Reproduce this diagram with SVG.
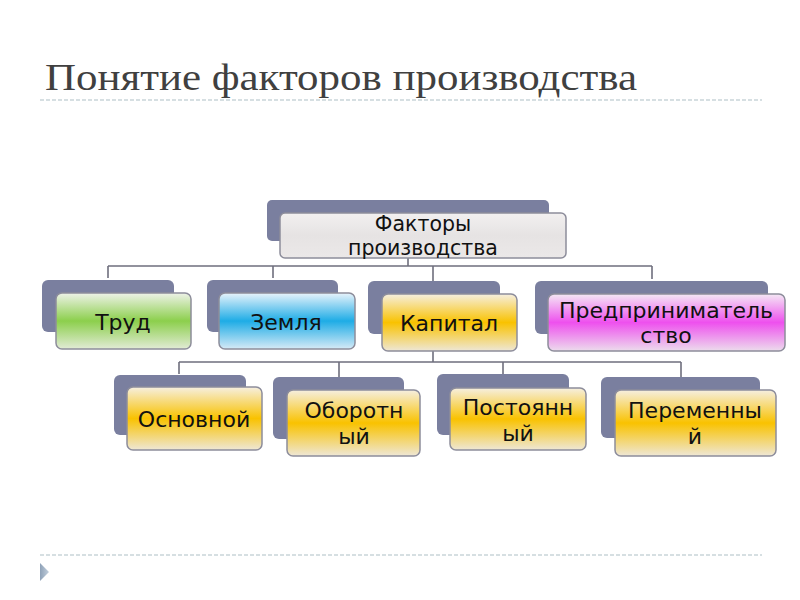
<svg xmlns="http://www.w3.org/2000/svg" width="800" height="600" viewBox="0 0 800 600">
<defs>
<linearGradient id="gGray" x1="0" y1="0" x2="0" y2="1"><stop offset="0" stop-color="#f2f0f0"/><stop offset="0.5" stop-color="#e6e3e3"/><stop offset="1" stop-color="#ebe8e8"/></linearGradient>
<linearGradient id="gGreen" x1="0" y1="0" x2="0" y2="1"><stop offset="0" stop-color="#eef2e8"/><stop offset="0.5" stop-color="#8ccf4c"/><stop offset="1" stop-color="#e2ebd6"/></linearGradient>
<linearGradient id="gBlue" x1="0" y1="0" x2="0" y2="1"><stop offset="0" stop-color="#e8f3fb"/><stop offset="0.5" stop-color="#1eace6"/><stop offset="1" stop-color="#d6eaf6"/></linearGradient>
<linearGradient id="gOrange" x1="0" y1="0" x2="0" y2="1"><stop offset="0" stop-color="#f6efe0"/><stop offset="0.5" stop-color="#f9c200"/><stop offset="1" stop-color="#eee7d6"/></linearGradient>
<linearGradient id="gPink" x1="0" y1="0" x2="0" y2="1"><stop offset="0" stop-color="#f4e8f4"/><stop offset="0.5" stop-color="#ee50ee"/><stop offset="1" stop-color="#ecdcec"/></linearGradient>
<linearGradient id="gTri" x1="0" y1="0" x2="1" y2="0"><stop offset="0" stop-color="#8fa2b8"/><stop offset="1" stop-color="#c2cfdc"/></linearGradient>
</defs>
<style>
.title{font-family:"Liberation Serif","Times New Roman",serif;font-size:38px;fill:#404040}
.dash{stroke:#aebfc6;stroke-width:1.2;stroke-dasharray:4 2;fill:none}
.back{fill:#7a7f9f}
.front{stroke:#8d8d9b;stroke-width:1.5}
.lbl{font-family:"DejaVu Sans","Verdana",sans-serif;font-size:22px;fill:#111;text-anchor:middle}
.top{font-size:20.5px}
.conn{stroke:#6f6f7d;stroke-width:1.6;fill:none}
</style>
<rect width="800" height="600" fill="#ffffff"/>
<text class="title" x="45" y="90" textLength="592" lengthAdjust="spacingAndGlyphs">Понятие факторов производства</text>
<line class="dash" x1="40" y1="100" x2="762" y2="100"/>
<line class="dash" x1="40" y1="555" x2="762" y2="555"/>
<polygon points="40,563 49,572 40,581" fill="url(#gTri)"/>

<g id="connectors">
<path class="conn" d="M408,258 V266 M108,266 H652 M108,266 V278 M273,266 V278 M433,266 V281 M652,266 V279"/>
<path class="conn" d="M433,351 V362 M179,362 H681 M179,362 V374 M339,362 V377 M503,362 V374 M681,362 V377"/>
</g>

<g id="n-factors">
<rect class="back" x="267" y="200" width="282" height="41" rx="5"/>
<rect class="front" x="280" y="213" width="286" height="45" rx="5" fill="url(#gGray)"/>
<text class="lbl top" x="423" y="231">Факторы</text>
<text class="lbl top" x="423" y="255">производства</text>
</g>
<g id="n-trud">
<rect class="back" x="42" y="280" width="132" height="52" rx="6"/>
<rect class="front" x="56" y="293" width="135" height="56" rx="6" fill="url(#gGreen)"/>
<text class="lbl" x="123" y="330">Труд</text>
</g>
<g id="n-zemlya">
<rect class="back" x="207" y="280" width="131" height="52" rx="6"/>
<rect class="front" x="219" y="293" width="136" height="56" rx="6" fill="url(#gBlue)"/>
<text class="lbl" x="286" y="330">Земля</text>
</g>
<g id="n-kapital">
<rect class="back" x="368" y="281" width="132" height="53" rx="6"/>
<rect class="front" x="382" y="294" width="135" height="57" rx="6" fill="url(#gOrange)"/>
<text class="lbl" x="449" y="331">Капитал</text>
</g>
<g id="n-predpr">
<rect class="back" x="535" y="281" width="233" height="53" rx="6"/>
<rect class="front" x="548" y="294" width="237" height="57" rx="6" fill="url(#gPink)"/>
<text class="lbl" x="666" y="318">Предприниматель</text>
<text class="lbl" x="666" y="343">ство</text>
</g>
<g id="n-osnovnoy">
<rect class="back" x="114" y="375" width="132" height="60" rx="6"/>
<rect class="front" x="127" y="387" width="135" height="63" rx="6" fill="url(#gOrange)"/>
<text class="lbl" x="194" y="427">Основной</text>
</g>
<g id="n-oborotny">
<rect class="back" x="273" y="377" width="131" height="62" rx="6"/>
<rect class="front" x="287" y="390" width="133" height="66" rx="6" fill="url(#gOrange)"/>
<text class="lbl" x="354" y="418">Оборотн</text>
<text class="lbl" x="354" y="444">ый</text>
</g>
<g id="n-postoyanny">
<rect class="back" x="437" y="374" width="132" height="61" rx="6"/>
<rect class="front" x="450" y="388" width="136" height="62" rx="6" fill="url(#gOrange)"/>
<text class="lbl" x="518" y="415">Постоянн</text>
<text class="lbl" x="518" y="441">ый</text>
</g>
<g id="n-peremenny">
<rect class="back" x="601" y="377" width="159" height="61" rx="6"/>
<rect class="front" x="615" y="390" width="161" height="66" rx="6" fill="url(#gOrange)"/>
<text class="lbl" x="695" y="418">Переменны</text>
<text class="lbl" x="695" y="444">й</text>
</g>
</svg>
